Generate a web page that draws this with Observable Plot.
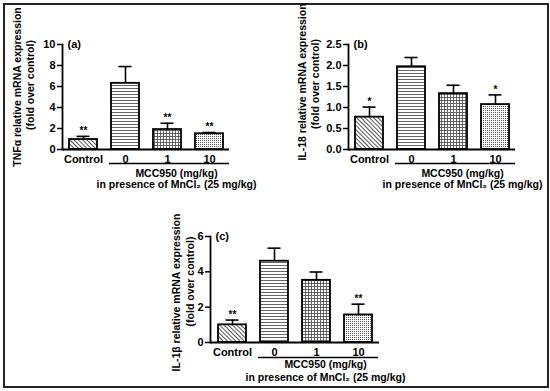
<!DOCTYPE html>
<html>
<head>
<meta charset="utf-8">
<script src="https://cdn.jsdelivr.net/npm/d3@7"></script>
<script src="https://cdn.jsdelivr.net/npm/@observablehq/plot@0.6"></script>
<style>
  html, body { margin: 0; padding: 0; background: #fff; }
  #wrap { position: relative; width: 550px; height: 391px; overflow: hidden; background: #fff; }
  #border { position: absolute; left: 3px; top: 3px; width: 542px; height: 381px; border: 2px solid #222; }
  .panel { position: absolute; }
</style>
</head>
<body>
<div id="wrap">
  <svg width="0" height="0" style="position:absolute">
    <defs>
      <pattern id="pDiag" patternUnits="userSpaceOnUse" width="3" height="3" patternTransform="rotate(45)">
        <rect width="3" height="3" fill="#fff"/>
        <line x1="0" y1="1.5" x2="3" y2="1.5" stroke="#444" stroke-width="0.9"/>
      </pattern>
      <pattern id="pHoriz" patternUnits="userSpaceOnUse" width="4" height="3">
        <rect width="4" height="3" fill="#fff"/>
        <line x1="0" y1="1.5" x2="4" y2="1.5" stroke="#555" stroke-width="0.9"/>
      </pattern>
      <pattern id="pGrid" patternUnits="userSpaceOnUse" width="3" height="3">
        <rect width="3" height="3" fill="#fff"/>
        <line x1="0" y1="1.5" x2="3" y2="1.5" stroke="#444" stroke-width="0.8"/>
        <line x1="1.5" y1="0" x2="1.5" y2="3" stroke="#444" stroke-width="0.8"/>
      </pattern>
      <pattern id="pDots" patternUnits="userSpaceOnUse" width="2" height="2">
        <rect width="2" height="2" fill="#fff"/>
        <rect x="0" y="0" width="1" height="1" fill="#555"/>
      </pattern>
    </defs>
  </svg>
  <div id="border"></div>
</div>
<script>
// ---- data ----
const categories = ["Control", "0", "1", "10"];
const patterns = ["url(#pDiag)", "url(#pHoriz)", "url(#pGrid)", "url(#pDots)"];

const tnfMean = [0.95, 6.3, 1.9, 1.5];
const tnfSem  = [0.3, 1.6, 0.6, 0.12];
const tnfStars = ["**", "", "**", "**"];
const tnfTicks = [0, 2, 4, 6, 8, 10];

const il18Mean = [0.77, 1.97, 1.33, 1.07];
const il18Sem  = [0.24, 0.22, 0.2, 0.23];
const il18Stars = ["*", "", "", "*"];
const il18Ticks = [0, 0.5, 1.0, 1.5, 2.0, 2.5];

const il1bMean = [1.0, 4.6, 3.52, 1.56];
const il1bSem  = [0.27, 0.74, 0.47, 0.61];
const il1bStars = ["**", "", "", "**"];
const il1bTicks = [0, 2, 4, 6];

const groupLabel1 = "MCC950 (mg/kg)";
const groupLabel2 = "in presence of MnCl\u2082 (25 mg/kg)";
const FONT = "'Liberation Sans', Arimo, 'DejaVu Sans', sans-serif";

function panel(o) {
  const rows = categories.map((c, i) => ({cat: c, mean: o.mean[i], sem: o.sem[i], top: o.mean[i] + o.sem[i], star: o.stars[i], pat: patterns[i]}));
  const starRows = rows.filter(d => d.star);
  const chart = Plot.plot({
    width: o.width, height: o.height,
    marginLeft: o.ml, marginRight: o.mr, marginTop: o.mt, marginBottom: o.mb,
    x: {domain: categories, paddingInner: 0.338, paddingOuter: 0.143, axis: null},
    y: {domain: [0, o.ymax], axis: null},
    color: {type: "identity"},
    style: {fontFamily: FONT, fontWeight: "bold", fontSize: "10.5px", color: "#000", background: "transparent", overflow: "visible"},
    marks: [
      Plot.barY(rows, {x: "cat", y: "mean", fill: "pat", stroke: "#000", strokeWidth: 1.8}),
      Plot.ruleX(rows, {x: "cat", y1: "mean", y2: "top", stroke: "#000", strokeWidth: 1.6}),
      Plot.tickY(rows, {x: "cat", y: "top", insetLeft: 7.5, insetRight: 7.5, stroke: "#000", strokeWidth: 1.6}),
      Plot.text(starRows, {x: "cat", y: "top", text: "star", dy: -2, lineAnchor: "bottom", fontSize: 10, fontWeight: "bold", fontFamily: FONT}),
      Plot.axisY({ticks: o.ticks, tickFormat: o.fmt, tickSize: 5, tickPadding: 2, strokeWidth: 1.5, label: null, fontSize: 11, fontWeight: "bold", fontFamily: FONT}),
      Plot.frame({anchor: "left", stroke: "#000", strokeWidth: 1.8}),
      Plot.ruleY([0], {stroke: "#000", strokeWidth: 1.8}),
      Plot.text(rows, {x: "cat", y: () => 0, text: "cat", dy: 10, lineAnchor: "middle", fontSize: 11, fontFamily: FONT}),
      Plot.ruleY([0], {x1: () => "0", x2: () => "10", dy: o.lineDy, insetLeft: -2, insetRight: -6, stroke: "#000", strokeWidth: 1.3}),
      Plot.text([groupLabel1], {x: () => "1", y: () => 0, dx: 9, dy: o.t1Dy, lineAnchor: "middle", fontSize: 10.5, fontFamily: FONT}),
      Plot.text([groupLabel2], {x: () => "1", y: () => 0, dx: 9, dy: o.t2Dy, lineAnchor: "middle", fontSize: 10.5, fontFamily: FONT}),
      Plot.text([o.letter], {frameAnchor: "top-left", dx: 5, textAnchor: "start", lineAnchor: "middle", fontSize: 11, fontFamily: FONT}),
      Plot.text([o.ylab1], {frameAnchor: "left", dx: o.lab1Dx, dy: o.lab1Dy, rotate: -90, textAnchor: "middle", lineAnchor: "middle", fontSize: 10.5, fontFamily: FONT}),
      Plot.text(["(fold over control)"], {frameAnchor: "left", dx: o.lab2Dx, dy: o.lab2Dy, rotate: -90, textAnchor: "middle", lineAnchor: "middle", fontSize: 10.5, fontFamily: FONT})
    ]
  });
  chart.classList.add("panel");
  chart.style.left = o.left + "px";
  chart.style.top = o.top + "px";
  document.getElementById("wrap").appendChild(chart);
}

panel({left: 0, top: 0, width: 275, height: 195, ml: 62, mr: 46, mt: 44, mb: 46,
  mean: tnfMean, sem: tnfSem, stars: tnfStars, ymax: 10, ticks: tnfTicks, fmt: d3.format("d"),
  letter: "(a)", ylab1: "TNF\u03b1 relative mRNA expression",
  lab1Dx: -45, lab1Dy: -10, lab2Dx: -32, lab2Dy: -12, lineDy: 14, t1Dy: 24, t2Dy: 35});

panel({left: 275, top: 0, width: 275, height: 195, ml: 73, mr: 35, mt: 44, mb: 46,
  mean: il18Mean, sem: il18Sem, stars: il18Stars, ymax: 2.5, ticks: il18Ticks, fmt: d3.format(".1f"),
  letter: "(b)", ylab1: "IL-18 relative mRNA expression",
  lab1Dx: -46, lab1Dy: -15, lab2Dx: -33, lab2Dy: -13, lineDy: 14, t1Dy: 24, t2Dy: 35});

panel({left: 130, top: 195, width: 280, height: 196, ml: 80, mr: 31, mt: 41, mb: 49,
  mean: il1bMean, sem: il1bSem, stars: il1bStars, ymax: 6, ticks: il1bTicks, fmt: d3.format("d"),
  letter: "(c)", ylab1: "IL-1\u03b2 relative mRNA expression",
  lab1Dx: -34, lab1Dy: 3, lab2Dx: -20, lab2Dy: -8, lineDy: 15, t1Dy: 22, t2Dy: 35});
</script>
</body>
</html>
